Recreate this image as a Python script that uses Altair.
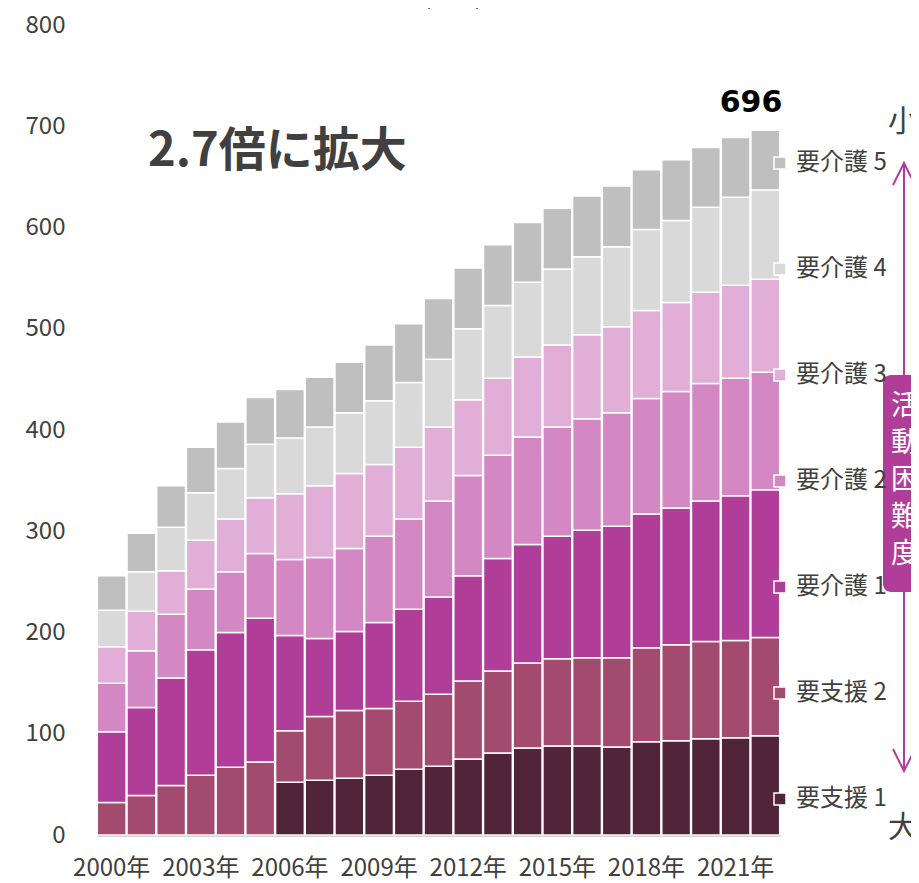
import altair as alt
import pandas as pd

# ---- data (万人, 年度末) ----
years = [str(y) for y in range(2000, 2023)]
cats = ["要支援 1", "要支援 2", "要介護 1", "要介護 2", "要介護 3", "要介護 4", "要介護 5"]
colors = ["#51243A", "#A24B6F", "#B03E98", "#D388C4", "#E0AED6", "#D9D9D9", "#BFBFBF"]

shien1 = [None, None, None, None, None, None, 52, 54, 56, 59, 65, 68, 75, 81, 86, 88, 88, 87, 92, 93, 95, 96, 98]
shien2 = [32, 39, 49, 59, 67, 72, 51, 63, 67, 66, 67, 71, 77, 81, 84, 86, 87, 88, 93, 95, 96, 96, 97]
kaigo1 = [70, 87, 106, 124, 133, 142, 94, 77, 78, 85, 91, 96, 104, 111, 117, 121, 126, 130, 132, 135, 139, 143, 146]
kaigo2 = [48, 56, 63, 60, 60, 64, 75, 80, 82, 85, 89, 95, 99, 102, 106, 108, 110, 112, 114, 115, 116, 116, 116]
kaigo3 = [36, 39, 43, 48, 52, 55, 65, 71, 74, 71, 71, 73, 75, 76, 79, 81, 83, 85, 87, 88, 90, 92, 92]
kaigo4 = [36, 39, 43, 47, 50, 53, 55, 58, 60, 63, 64, 67, 70, 72, 74, 75, 77, 79, 80, 81, 84, 87, 88]
kaigo5 = [34, 38, 41, 45, 46, 46, 48, 49, 50, 55, 58, 60, 60, 60, 59, 60, 60, 60, 59, 60, 59, 59, 59]

label_years = ["2000", "2003", "2006", "2009", "2012", "2015", "2018", "2021"]
y_ticks = [0, 100, 200, 300, 400, 500, 600, 700, 800]

series = [shien1, shien2, kaigo1, kaigo2, kaigo3, kaigo4, kaigo5]
rows = []
for ci, (cat, vals) in enumerate(zip(cats, series)):
    for yr, v in zip(years, vals):
        if v is not None:
            rows.append({"year": yr, "cat": cat, "value": v, "ord": ci})
df = pd.DataFrame(rows)

last_total = sum(s[-1] for s in series)
df_total = pd.DataFrame({"year": [years[-1]], "total": [last_total]})

FONT = "Noto Sans CJK JP"
TXT = "#404040"
MAG = "#B03E98"

bars = alt.Chart(df).mark_bar(stroke="white", strokeWidth=1.5).encode(
    x=alt.X("year:N", sort=years,
            scale=alt.Scale(paddingInner=0.03, paddingOuter=0.01),
            axis=alt.Axis(values=label_years, labelExpr="datum.value + '年'", title=None,
                          labelAngle=0, ticks=False, tickSize=0, domainColor="#A6A6A6",
                          domainWidth=2, labelFontSize=24, labelColor=TXT, labelFont=FONT,
                          labelPadding=21)),
    y=alt.Y("value:Q", stack="zero",
            scale=alt.Scale(domain=[0, 800], nice=False),
            axis=alt.Axis(values=y_ticks, title=None, grid=False, domain=False, ticks=False,
                          tickSize=0, labelPadding=32, labelFontSize=24, labelColor=TXT,
                          labelFont=FONT)),
    color=alt.Color("cat:N",
                    scale=alt.Scale(domain=cats[::-1], range=colors[::-1]),
                    legend=alt.Legend(title=None, orient="none", legendX=671, legendY=126,
                                      direction="vertical", symbolType="square",
                                      symbolSize=144, symbolStrokeColor="white",
                                      symbolStrokeWidth=1.5, symbolOpacity=1,
                                      labelFontSize=24, labelColor=TXT, labelFont=FONT,
                                      rowPadding=82, labelOffset=4, padding=0)),
    order=alt.Order("ord:Q", sort="ascending"),
)

total_text = alt.Chart(df_total).mark_text(
    align="right", baseline="alphabetic", dx=17, dy=-18, fontSize=30,
    fontWeight="bold", font="DejaVu Sans", color="black"
).encode(x=alt.X("year:N", sort=years), y="total:Q", text="total:Q")

one = pd.DataFrame({"k": [0]})

headline = alt.Chart(one).mark_text(
    text="2.7倍に拡大", align="left", baseline="middle", fontSize=47,
    fontWeight="bold", font=FONT, color=TXT
).encode(x=alt.value(51), y=alt.value(127))

unit = alt.Chart(one).mark_text(
    text="(万人)", align="center", baseline="middle", fontSize=22, font=FONT, color=TXT
).encode(x=alt.value(356), y=alt.value(-27))

shaft = alt.Chart(one).mark_rule(color=MAG, strokeWidth=2).encode(
    x=alt.value(807), y=alt.value(138), y2=alt.value(746))

head_up = alt.Chart(one).mark_point(
    shape="M-1,2L0,0L1,2", size=484, filled=False, strokeWidth=2, color=MAG, opacity=1
).encode(x=alt.value(807), y=alt.value(138))

head_down = alt.Chart(one).mark_point(
    shape="M-1,-2L0,0L1,-2", size=484, filled=False, strokeWidth=2, color=MAG, opacity=1
).encode(x=alt.value(807), y=alt.value(746))

small = alt.Chart(one).mark_text(
    text="小", align="center", baseline="middle", fontSize=30, font=FONT, color=TXT
).encode(x=alt.value(806), y=alt.value(97))

large = alt.Chart(one).mark_text(
    text="大", align="center", baseline="middle", fontSize=30, font=FONT, color=TXT
).encode(x=alt.value(806), y=alt.value(803))

box = alt.Chart(one).mark_rect(cornerRadius=8, color=MAG).encode(
    x=alt.value(786), x2=alt.value(830), y=alt.value(350), y2=alt.value(567))

box_text = alt.Chart(one).mark_text(
    text=["活", "動", "困", "難", "度"], lineHeight=37, align="center", baseline="middle",
    fontSize=28, font=FONT, color="white"
).encode(x=alt.value(808), y=alt.value(382))

chart = alt.layer(
    bars, total_text, headline, unit, shaft, head_up, head_down, small, large, box, box_text
).properties(
    width=683, height=810,
    autosize=alt.AutoSizeParams(type="none"),
    padding={"left": 89, "top": 17, "right": 131, "bottom": 48},
    background="white",
).configure_view(stroke=None)

chart.save("out.html", embed_options={"renderer": "svg", "actions": False})
